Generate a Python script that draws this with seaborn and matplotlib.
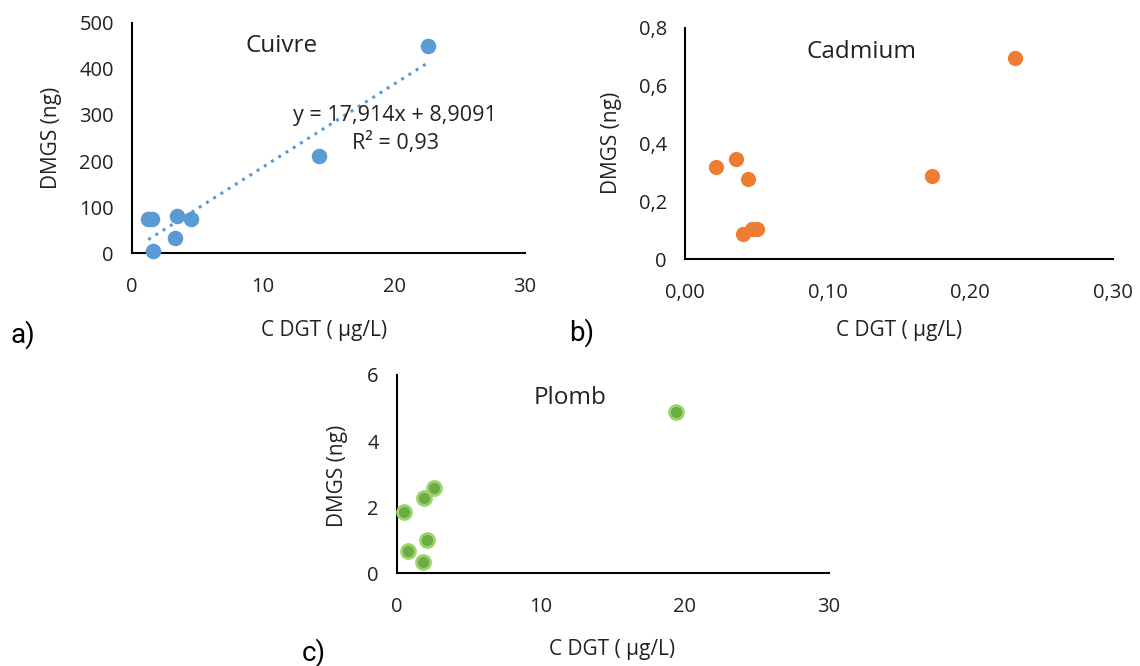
import matplotlib
matplotlib.use("Agg")
import matplotlib.pyplot as plt
import matplotlib.ticker as mticker
import seaborn as sns
import pandas as pd

# ---- data ----
cu_x = [1.24, 1.55, 1.58, 3.46, 3.28, 4.48, 14.3, 22.6]
cu_y = [74, 74, 4, 81, 33, 75, 211, 450]

cd_x = [0.0217, 0.0357, 0.0439, 0.0404, 0.0467, 0.0507, 0.1729, 0.2313]
cd_y = [0.320, 0.345, 0.277, 0.087, 0.104, 0.104, 0.288, 0.696]

pb_x = [0.51, 0.81, 1.89, 2.58, 2.12, 1.80, 19.37]
pb_y = [1.86, 0.67, 2.29, 2.57, 1.01, 0.34, 4.88]

titles = ["Cuivre", "Cadmium", "Plomb"]
panel_tags = ["a)", "b)", "c)"]
eq_text = "y = 17,914x + 8,9091"
r2_text = "R² = 0,93"
xlabel = "C DGT ( µg/L)"
ylabel = "DMGS (ng)"

sns.set_theme(style="white")
plt.rcParams["font.family"] = ["Open Sans", "DejaVu Sans"]

fig = plt.figure(figsize=(11.4, 6.66), dpi=100)
W, H = 1140, 666

def add_ax(l, r, b, t):
    return fig.add_axes([l / W, 1 - b / H, (r - l) / W, (b - t) / H])

axa = add_ax(132, 525, 253.3, 22.7)
axb = add_ax(685, 1113, 259.3, 27.7)
axc = add_ax(396.7, 829, 573.3, 375)

def comma(fmt):
    def f(v, pos):
        if abs(v) < 1e-12 and fmt != "{:.2f}":
            return "0"
        return fmt.format(v).replace(".", ",")
    return mticker.FuncFormatter(f)

tc = "#222222"

def style(ax):
    for s in ["top", "right"]:
        ax.spines[s].set_visible(False)
    for s in ["left", "bottom"]:
        ax.spines[s].set_color("black")
        ax.spines[s].set_linewidth(1.5)
    ax.tick_params(axis="both", direction="out", length=5, width=1.5,
                   color="black", labelsize=14.5, labelcolor=tc)
    ax.tick_params(axis="x", pad=12)
    ax.tick_params(axis="y", pad=8)
    ax.set_xlabel("")
    ax.set_ylabel("")

blue = "#5B9BD5"
orange = "#ED7D31"
green = "#6DAB45"
green_edge = "#9BD46A"

# Panel a
dfa = pd.DataFrame({"x": cu_x, "y": cu_y})
sns.regplot(data=dfa, x="x", y="y", ax=axa, scatter=False, ci=None,
            line_kws=dict(color=blue, linestyle=(0, (1, 1.8)), linewidth=2.2))
sns.scatterplot(data=dfa, x="x", y="y", ax=axa, s=125, color=blue,
                edgecolor=blue, linewidth=0, zorder=3, clip_on=False)
axa.set_xlim(0, 30)
axa.set_ylim(0, 500)
axa.set_xticks([0, 10, 20, 30])
axa.set_yticks([0, 100, 200, 300, 400, 500])
style(axa)

# Panel b
dfb = pd.DataFrame({"x": cd_x, "y": cd_y})
sns.scatterplot(data=dfb, x="x", y="y", ax=axb, s=120, color=orange,
                edgecolor=orange, linewidth=0, zorder=3, clip_on=False)
axb.set_xlim(0, 0.30)
axb.set_ylim(0, 0.8)
axb.set_xticks([0, 0.1, 0.2, 0.3])
axb.set_yticks([0, 0.2, 0.4, 0.6, 0.8])
axb.xaxis.set_major_formatter(comma("{:.2f}"))
axb.yaxis.set_major_formatter(comma("{:.1f}"))
style(axb)

# Panel c
dfc = pd.DataFrame({"x": pb_x, "y": pb_y})
sns.scatterplot(data=dfc, x="x", y="y", ax=axc, s=100, color=green,
                edgecolor=green_edge, linewidth=2.0, zorder=3, clip_on=False)
axc.set_xlim(0, 30)
axc.set_ylim(0, 6)
axc.set_xticks([0, 10, 20, 30])
axc.set_yticks([0, 2, 4, 6])
style(axc)

# titles
fig.text(281.7 / W, 1 - 46 / H, titles[0], ha="center", va="center", fontsize=17.5, color=tc)
fig.text(861 / W, 1 - 51.7 / H, titles[1], ha="center", va="center", fontsize=17.5, color=tc)
fig.text(570 / W, 1 - 398.3 / H, titles[2], ha="center", va="center", fontsize=17.5, color=tc)

# equation
fig.text(395 / W, 1 - 116 / H, eq_text, ha="center", va="center", fontsize=15.5, color=tc)
fig.text(395 / W, 1 - 143.3 / H, r2_text, ha="center", va="center", fontsize=15.5, color=tc)

# axis labels
for (xc, yc, xl, yl) in [(324, 330, 52, 138), (899, 331, 612, 143), (612, 650, 337, 476)]:
    fig.text(xc / W, 1 - yc / H, xlabel, ha="center", va="center", fontsize=15, color=tc)
    fig.text(xl / W, 1 - yl / H, ylabel, ha="center", va="center", fontsize=15,
             rotation=90, color=tc)

# panel tags
for (x, y, t) in [(23, 335, panel_tags[0]), (582, 333, panel_tags[1]), (314, 653, panel_tags[2])]:
    fig.text(x / W, 1 - y / H, t, ha="center", va="center", fontsize=20, color="black",
             family=["Liberation Sans Narrow", "Roboto", "DejaVu Sans"])

fig.savefig("out.png", dpi=100, facecolor="white")
